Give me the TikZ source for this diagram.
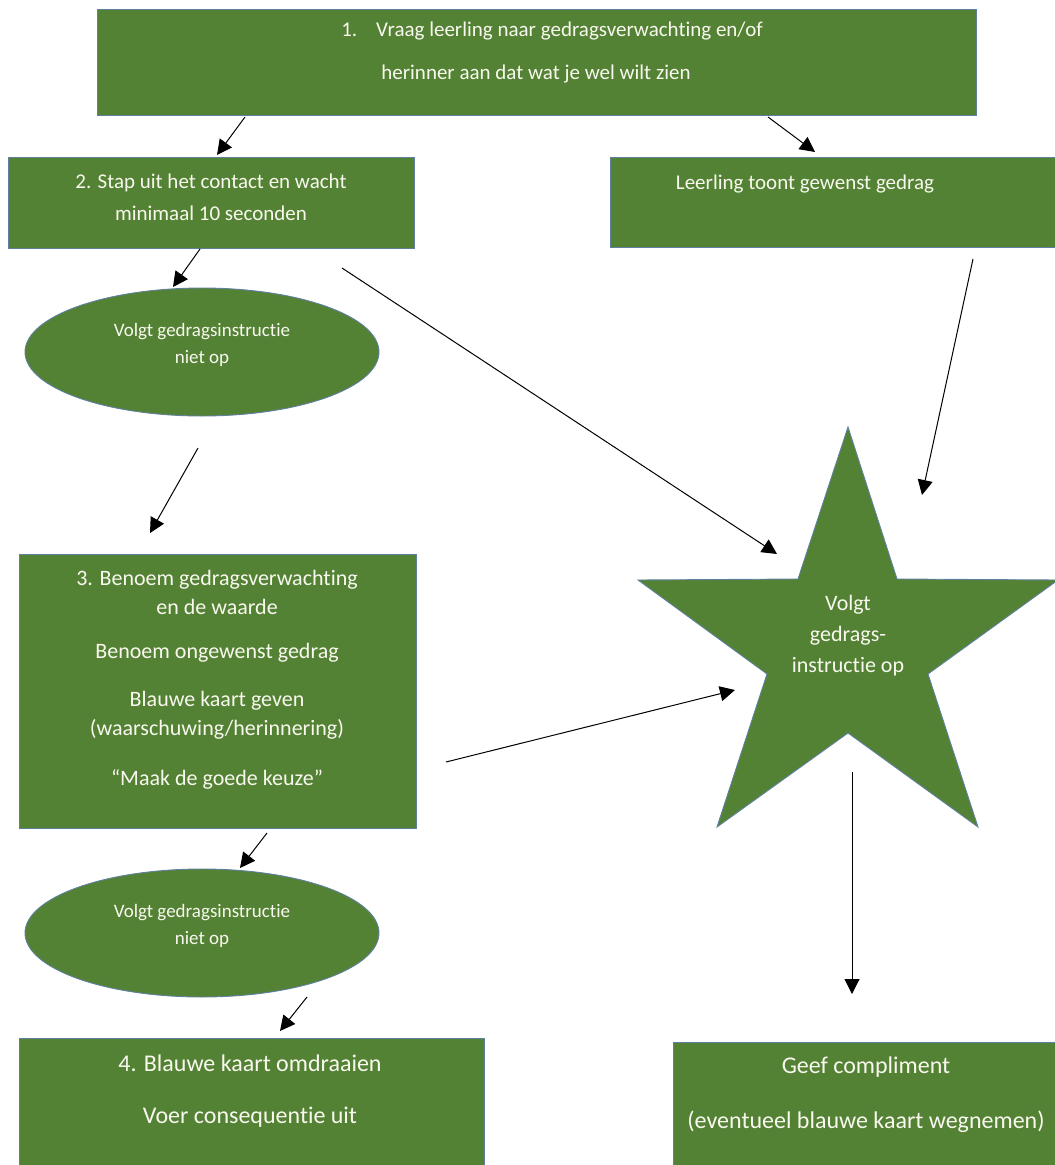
\documentclass[tikz,border=0pt]{standalone}
\usepackage{fontspec}
\setmainfont[Ligatures=NoCommon]{Carlito}
\usetikzlibrary{shapes.geometric,arrows.meta}
\definecolor{fillgreen}{RGB}{84,130,53}
\definecolor{edgeblue}{RGB}{95,128,158}
\definecolor{txtwhite}{RGB}{248,248,238}
\begin{document}
\begin{tikzpicture}[x=1pt,y=-1pt,
  shapebox/.style={draw=edgeblue, line width=0.9pt, fill=fillgreen, inner sep=0pt, outer sep=0pt, anchor=north west},
  oval/.style={ellipse, draw=edgeblue, line width=0.9pt, fill=fillgreen, inner sep=0pt, minimum width=354pt, minimum height=128pt},
  lbl/.style={text=txtwhite, align=center, inner sep=0pt},
  arr/.style={line width=1pt, -{Triangle[length=15pt,width=15pt]}}]
\useasboundingbox (0,0) rectangle (1055,1165);
\clip (0,0) rectangle (1055,1165);

% shapes
\node[shapebox, minimum width=879pt, minimum height=106pt] (b1) at (97,9) {};
\node[shapebox, minimum width=406pt, minimum height=91pt] (b2) at (8,157) {};
\node[shapebox, minimum width=460pt, minimum height=90pt] (b3) at (610,157) {};
\node[oval] (e1) at (202,352) {};
\node[shapebox, minimum width=397pt, minimum height=274pt] (b4) at (19,554) {};
\node[oval] (e2) at (202,933) {};
\node[shapebox, minimum width=465pt, minimum height=140pt] (b5) at (19,1038) {};
\node[shapebox, minimum width=400pt, minimum height=140pt] (b6) at (673,1042) {};
\path[draw=edgeblue, line width=0.9pt, fill=fillgreen]
  (848,427) -- (897,579) -- (1058,580) -- (928,674) -- (978,827) -- (848,733)
  -- (717,827) -- (767,674) -- (638,580) -- (798,579) -- cycle;
\coordinate (star) at (848,648);

% texts
\node[lbl, font=\fontsize{21}{30}\selectfont] (t1a) at (552,31) {1.\hspace{19pt}Vraag leerling naar gedragsverwachting en/of};
\node[lbl, font=\fontsize{21}{30}\selectfont] (t1b) at (536,74) {herinner aan dat wat je wel wilt zien};
\node[lbl, font=\fontsize{21}{32}\selectfont] (t2) at (211,197) {2. Stap uit het contact en wacht\\minimaal 10 seconden};
\node[lbl, font=\fontsize{21}{30}\selectfont] (t3) at (805,184) {Leerling toont gewenst gedrag};
\node[lbl, font=\fontsize{19}{27}\selectfont] (te1) at (202,345) {Volgt gedragsinstructie\\niet op};
\node[lbl, font=\fontsize{22}{29}\selectfont] (t4a) at (217,592) {3. Benoem gedragsverwachting\\en de waarde};
\node[lbl, font=\fontsize{22}{29}\selectfont] (t4b) at (217,653) {Benoem ongewenst gedrag};
\node[lbl, font=\fontsize{22}{29}\selectfont] (t4c) at (217,715) {Blauwe kaart geven\\(waarschuwing/herinnering)};
\node[lbl, font=\fontsize{22}{29}\selectfont] (t4d) at (217,779) {“Maak de goede keuze”};
\node[lbl, font=\fontsize{19}{27}\selectfont] (te2) at (202,926) {Volgt gedragsinstructie\\niet op};
\node[lbl, font=\fontsize{24}{30}\selectfont] (t5a) at (250,1063) {4. Blauwe kaart omdraaien};
\node[lbl, font=\fontsize{24}{30}\selectfont] (t5b) at (250,1117) {Voer consequentie uit};
\node[lbl, font=\fontsize{24}{30}\selectfont] (t6a) at (866,1067) {Geef compliment};
\node[lbl, font=\fontsize{24}{30}\selectfont] (t6b) at (866,1122) {(eventueel blauwe kaart wegnemen)};
\node[lbl, font=\fontsize{22}{31}\selectfont] (ts) at (848,636) {Volgt\\gedrags-\\instructie op};

% connector end points
\coordinate (a1s) at (245,117);  \coordinate (a1e) at (217,155);
\coordinate (a2s) at (768,117);  \coordinate (a2e) at (815,152);
\coordinate (a3s) at (200,249);  \coordinate (a3e) at (173,287);
\coordinate (a4s) at (342,268);  \coordinate (a4e) at (777,554);
\coordinate (a5s) at (973,259);  \coordinate (a5e) at (922,495);
\coordinate (a6s) at (198,448);  \coordinate (a6e) at (150,533);
\coordinate (a7s) at (446,762);  \coordinate (a7e) at (735,690);
\coordinate (a8s) at (852,772);  \coordinate (a8e) at (852,994);
\coordinate (a9s) at (267,833);  \coordinate (a9e) at (240,868);
\coordinate (a10s) at (307,997); \coordinate (a10e) at (280,1031);

\draw[arr] (a1s) -- (a1e);
\draw[arr] (a2s) -- (a2e);
\draw[arr] (a3s) -- (a3e);
\draw[arr] (a4s) -- (a4e);
\draw[arr] (a5s) -- (a5e);
\draw[arr] (a6s) -- (a6e);
\draw[arr] (a7s) -- (a7e);
\draw[arr] (a8s) -- (a8e);
\draw[arr] (a9s) -- (a9e);
\draw[arr] (a10s) -- (a10e);
\end{tikzpicture}
\end{document}
